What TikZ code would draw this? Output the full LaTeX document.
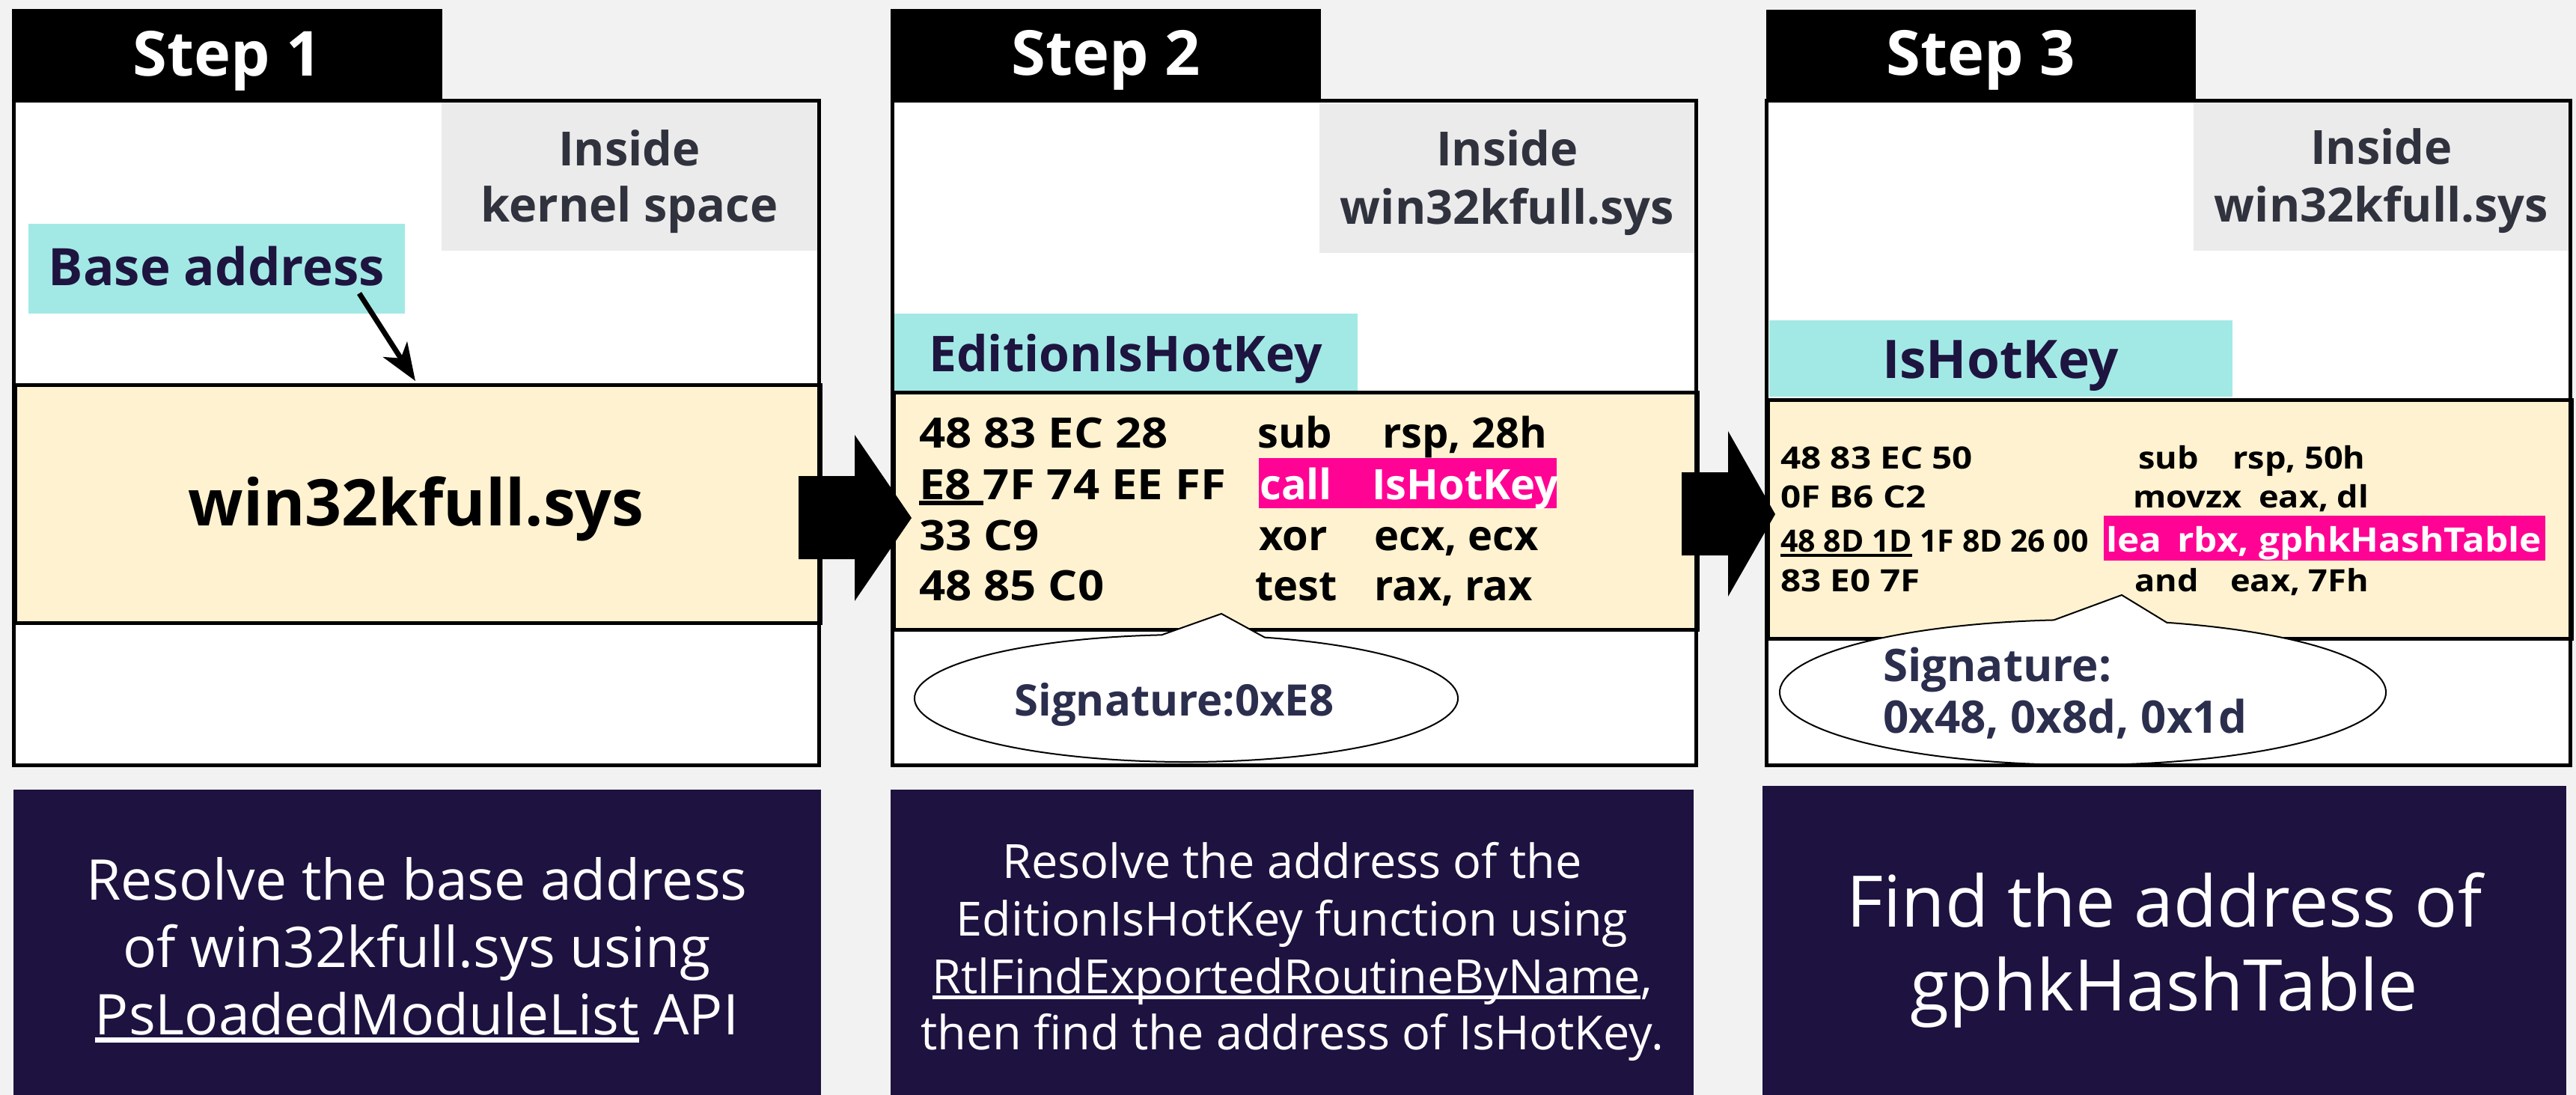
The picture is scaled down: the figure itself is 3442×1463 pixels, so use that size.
\documentclass[tikz,border=0pt]{standalone}
\usepackage{fontspec}
\setmainfont{Open Sans}
% slightly widened faces for the disassembly listings
\newfontfamily\codeA[FakeStretch=1.1]{Open Sans}
\newfontfamily\codeB[FakeStretch=1.16]{Open Sans}
\usetikzlibrary{arrows.meta}

\definecolor{bgc}{HTML}{F2F2F2}
\definecolor{bandc}{HTML}{FFF2D0}
\definecolor{cyanc}{HTML}{A2E9E5}
\definecolor{grayc}{HTML}{EBEBEB}
\definecolor{graytxt}{HTML}{30323D}
\definecolor{navy}{HTML}{1E1440}
\definecolor{pinkc}{HTML}{FF0394}
\definecolor{notec}{HTML}{1E1240}
\definecolor{sigc}{HTML}{2B2E4D}

% font size helper (size in pt)
\newcommand{\setfs}[1]{\fontsize{#1}{#1}\selectfont}
% underline with explicit offset below baseline (#1) and thickness (#2)
\newcommand{\ulbox}[3]{\setbox0\hbox{#3}\rlap{\rule[-#1]{\wd0}{#2}}\box0\relax}

\begin{document}
\begin{tikzpicture}[x=1pt,y=-1pt,
  panel/.style={fill=white,inner sep=0pt,anchor=north west},
  border/.style={draw=black,line width=5pt},
  band/.style={draw=black,line width=5pt,fill=bandc,inner sep=0pt,anchor=north west},
  tab/.style={fill=black,inner sep=0pt,anchor=north west},
  tabtxt/.style={text=white,font=\setfs{83}\bfseries,anchor=base,inner sep=0pt},
  where/.style={fill=grayc,inner sep=0pt,anchor=north west},
  wheretxt/.style={text=graytxt,font=\setfs{63}\bfseries,anchor=base,inner sep=0pt},
  fnbox/.style={fill=cyanc,inner sep=0pt,anchor=north west},
  fntxt/.style={text=navy,font=\setfs{69}\bfseries,anchor=base,inner sep=0pt},
  hex/.style={font=\codeA\setfs{56}\bfseries,anchor=base west,inner sep=0pt},
  code/.style={font=\setfs{56}\bfseries,anchor=base west,inner sep=0pt},
  hexs/.style={font=\codeB\setfs{41}\bfseries,anchor=base west,inner sep=0pt},
  codes/.style={font=\codeA\setfs{41}\bfseries,anchor=base west,inner sep=0pt},
  hlcode/.style={font=\codeA\setfs{45}\bfseries,text=white,anchor=base west,inner sep=0pt},
  hl/.style={fill=pinkc,inner sep=0pt,anchor=north west},
  callout/.style={draw=black,line width=2pt,fill=white},
  sigtxt/.style={text=sigc,font=\setfs{60}\bfseries,inner sep=0pt},
  note/.style={fill=notec,inner sep=0pt,anchor=north west},
  notetxt/.style={text=white,anchor=base,inner sep=0pt},
  bigarrow/.style={fill=black},
]
% canvas
\fill[bgc] (0,0) rectangle (3442,1463);
\useasboundingbox (0,0) rectangle (3442,1463);

% ---------- panels ----------
\node[panel,minimum width=1076pt,minimum height=887pt] (p1) at (18,135) {};
\node[panel,minimum width=1074pt,minimum height=887pt] (p2) at (1192,135) {};
\node[panel,minimum width=1074pt,minimum height=887pt] (p3) at (2360,135) {};

% location labels
\node[where,minimum width=503pt,minimum height=198pt] (g1) at (590,137) {};
\node[where,minimum width=503pt,minimum height=199pt] (g2) at (1763,139) {};
\node[where,minimum width=503pt,minimum height=198pt] (g3) at (2931,137) {};
\node[wheretxt] at (841,222) {Inside};
\node[wheretxt] at (841,297) {kernel space};
\node[wheretxt] at (2014,222) {Inside};
\node[wheretxt] at (2014,299) {win32kfull.sys};
\node[wheretxt] at (3182,220) {Inside};
\node[wheretxt] at (3182,297) {win32kfull.sys};

% function / address labels
\node[fnbox,minimum width=503pt,minimum height=120pt] (c1) at (38,299) {};
\node[fnbox,minimum width=619pt,minimum height=103pt] (c2) at (1195,419) {};
\node[fnbox,minimum width=619pt,minimum height=102pt] (c3) at (2364,428) {};
\node[fntxt] at (289.5,381) {Base address};
\node[fntxt,font=\setfs{66}\bfseries] at (1504,496) {EditionIsHotKey};
\node[fntxt,font=\setfs{71}\bfseries] at (2673,505) {IsHotKey};

% memory bands
\node[band,minimum width=1076pt,minimum height=318pt] (b1) at (18,512) {};
\node[band,minimum width=1074pt,minimum height=317pt] (b2) at (1192,522) {};
\node[band,minimum width=1074pt,minimum height=319pt] (b3) at (2360,532) {};

\node[font=\setfs{86}\bfseries,anchor=base,inner sep=0pt] at (556,702) {win32kfull.sys};

% pointer to the module base
\coordinate (bfrom) at (480,392);
\coordinate (bto) at (555,509);
\draw[line width=7pt,-{Stealth[length=50pt,width=38pt,inset=14pt]}] (bfrom) -- (bto);

% ---------- step 2 code ----------
\node[hl,minimum width=398pt,minimum height=67pt] (h2) at (1682,612) {};
\node[hex] at (1228,598) {48 83 EC 28};
\node[code] at (1680,598) {sub};
\node[code] at (1847,598) {rsp, 28h};
\node[hex] at (1228,667) {\ulbox{8pt}{6pt}{E8\ }7F 74 EE FF};
\node[code,text=white] at (1683,667) {call};
\node[code,text=white] at (1833,667) {IsHotKey};
\node[hex] at (1228,735) {33 C9};
\node[code] at (1682,735) {xor};
\node[code] at (1836,735) {ecx, ecx};
\node[hex] at (1228,802) {48 85 C0};
\node[code] at (1677,802) {test};
\node[code] at (1836,802) {rax, rax};

% ---------- step 3 code ----------
\node[hl,minimum width=590pt,minimum height=60pt] (h3) at (2811,689) {};
\node[hexs] at (2379,626) {48 83 EC 50};
\node[codes] at (2857,626) {sub};
\node[codes] at (2983,626) {rsp, 50h};
\node[hexs] at (2379,678) {0F B6 C2};
\node[codes] at (2850,678) {movzx};
\node[codes] at (3018,678) {eax, dl};
\node[codes,font=\setfs{41}\bfseries] at (2379,737) {\ulbox{7pt}{4pt}{48 8D 1D} 1F 8D 26 00};
\node[hlcode] at (2814,737) {lea};
\node[hlcode] at (2909,737) {rbx,};
\node[hlcode] at (3018,737) {gphkHashTable};
\node[hexs] at (2379,790) {83 E0 7F};
\node[codes] at (2852,790) {and};
\node[codes] at (2980,790) {eax, 7Fh};

% ---------- signature callouts ----------
\coordinate (e2) at (1585,933);
\coordinate (t2) at (1632,820);
\draw[callout] (e2) ++(-73.2:363 and 85)
  arc[start angle=-73.2,end angle=264.8,x radius=363,y radius=85] -- (t2) -- cycle;
\node[sigtxt,font=\setfs{58}\bfseries,anchor=base] at (1569,956) {Signature:0xE8};

\coordinate (e3) at (2783,925);
\coordinate (t3) at (2835,795);
\draw[callout] (e3) ++(-73.9:405 and 97)
  arc[start angle=-73.9,end angle=264.5,x radius=405,y radius=97] -- (t3) -- cycle;
\node[sigtxt,anchor=base west] at (2516,910) {Signature:};
\node[sigtxt,anchor=base west] at (2516,979) {0x48, 0x8d, 0x1d};

% panel outlines
\draw[border] (p1.north west) rectangle (p1.south east);
\draw[border] (p2.north west) rectangle (p2.south east);
\draw[border] (p3.north west) rectangle (p3.south east);

% step tabs
\node[tab,minimum width=575pt,minimum height=125pt] (t1box) at (16,12) {};
\node[tab,minimum width=575pt,minimum height=125pt] (t2box) at (1190,12) {};
\node[tab,minimum width=574pt,minimum height=124pt] (t3box) at (2360,13) {};
\node[tabtxt] at (303.5,102) {Step 1};
\node[tabtxt] at (1477.5,101) {Step 2};
\node[tabtxt] at (2647,101) {Step 3};

% ---------- transitions ----------
\fill[bigarrow] (1067,636) -- (1142,636) -- (1142,581) -- (1218,692)
  -- (1142,803) -- (1142,747) -- (1067,747) -- cycle;
\fill[bigarrow] (2247,631) -- (2309,631) -- (2309,576) -- (2372,687)
  -- (2309,797) -- (2309,742) -- (2247,742) -- cycle;

% ---------- descriptions ----------
\node[note,minimum width=1079pt,minimum height=408pt] (n1) at (18,1055) {};
\node[note,minimum width=1073pt,minimum height=408pt] (n2) at (1190,1055) {};
\node[note,minimum width=1074pt,minimum height=413pt] (n3) at (2355,1050) {};

\node[notetxt,font=\setfs{75}] at (557,1202) {Resolve the base address};
\node[notetxt,font=\setfs{75}] at (557,1292) {of win32kfull.sys using};
\node[notetxt,font=\setfs{75}] at (557,1382) {\ulbox{11pt}{7pt}{PsLoadedModuleList} API};

\node[notetxt,font=\setfs{63}] at (1726.5,1173) {Resolve the address of the};
\node[notetxt,font=\setfs{63}] at (1726.5,1250) {EditionIsHotKey function using};
\node[notetxt,font=\setfs{63}] at (1726.5,1327) {\ulbox{8pt}{5pt}{RtlFindExportedRoutineByName},};
\node[notetxt,font=\setfs{63}] at (1726.5,1402) {then find the address of IsHotKey.};

\node[notetxt,font=\setfs{95}] at (2892,1238) {Find the address of};
\node[notetxt,font=\setfs{95}] at (2892,1350) {gphkHashTable};
\end{tikzpicture}
\end{document}
